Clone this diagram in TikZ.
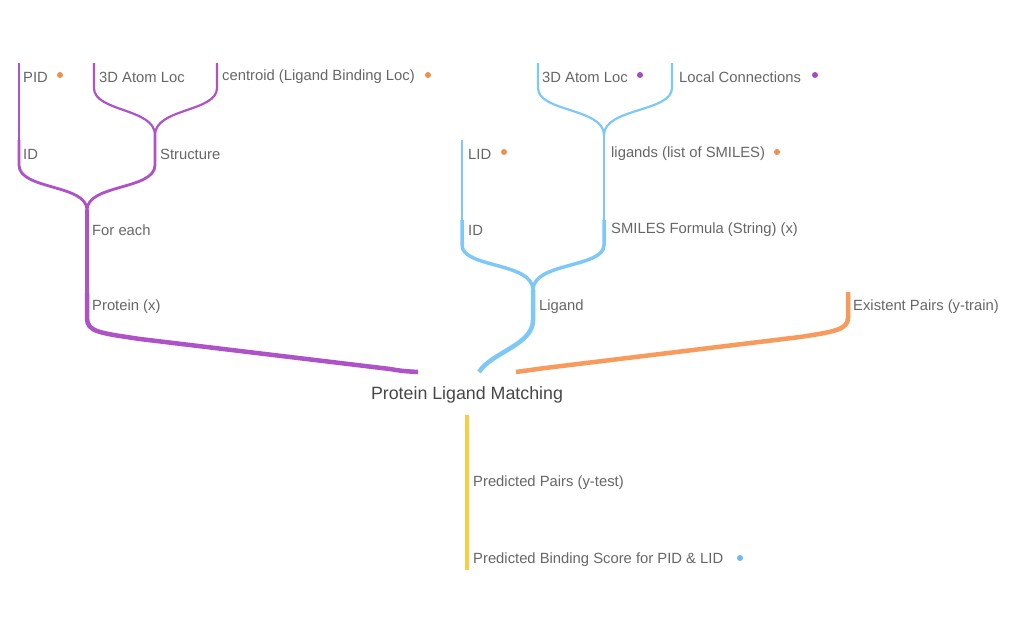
\documentclass[tikz,border=0pt]{standalone}
\usepackage{fontspec}
\setmainfont{Liberation Sans}
\definecolor{purp}{HTML}{AE52C8}
\definecolor{sky}{HTML}{7DC8F7}
\definecolor{peach}{HTML}{F79A5C}
\definecolor{sun}{HTML}{F9CC45}
\definecolor{txtgray}{HTML}{666666}
\definecolor{dotorange}{HTML}{EE8F4E}
\definecolor{dotpurple}{HTML}{A44BC0}
\definecolor{dotblue}{HTML}{6CB9EF}
\tikzset{lab/.style = {anchor=west, inner sep=0pt, text=txtgray, font=\fontsize{14.8}{17}\selectfont}}
\tikzset{dot/.style = {shape=circle, inner sep=0pt, minimum size=6pt}}
\tikzset{edge/.style = {-, line join=round}}

\begin{document}
\begin{tikzpicture}[x=1pt,y=-1pt]
\useasboundingbox (0,0) rectangle (1024,633);
% protein side
\coordinate (pidtop) at (19,63);
\coordinate (pidend) at (19,140);
\coordinate (idend) at (19,165);
\coordinate (atomtop) at (94,63);
\coordinate (atomend) at (94,88);
\coordinate (centtop) at (217,63);
\coordinate (centend) at (217,88);
\coordinate (structop) at (155,135);
\coordinate (strucend) at (155,165);
\coordinate (eachtop) at (87,210);
\coordinate (eachend) at (87,293);
\coordinate (protend) at (87,318);
% ligand side
\coordinate (latomtop) at (538,63);
\coordinate (latomend) at (538,88);
\coordinate (conntop) at (672,63);
\coordinate (connend) at (672,88);
\coordinate (ligstop) at (604,135);
\coordinate (ligsend) at (604,220);
\coordinate (smilesend) at (604,245);
\coordinate (lidtop) at (462,140);
\coordinate (lidend) at (462,220);
\coordinate (ligidend) at (462,245);
\coordinate (ligandtop) at (533,290);
\coordinate (ligandend) at (533,320);
% pairs
\coordinate (pairstop) at (848,292);
\coordinate (pairsend) at (848,318);
% centre and output
\coordinate (inleft) at (418,372);
\coordinate (inmid) at (479,372);
\coordinate (inright) at (516,372);
\coordinate (outtop) at (467,415);
\coordinate (outmid) at (467,492);
\coordinate (outend) at (467,570);

% labels
\node[lab] (pid) at (23,77) {PID};
\node[lab] (atomloc) at (99,77) {3D Atom Loc};
\node[lab] (centroid) at (222,77) {centroid (Ligand Binding Loc)};
\node[lab] (protid) at (23,154) {ID};
\node[lab] (structure) at (160,154) {Structure};
\node[lab] (foreach) at (92,230) {For each};
\node[lab] (protein) at (92,307) {Protein (x)};
\node[lab] (latomloc) at (542,77) {3D Atom Loc};
\node[lab] (lconn) at (679,77) {Local Connections};
\node[lab] (lid) at (468,154) {LID};
\node[lab] (ligands) at (611,154) {ligands (list of SMILES)};
\node[lab] (ligid) at (468,230) {ID};
\node[lab] (smiles) at (611,230) {SMILES Formula (String) (x)};
\node[lab] (ligand) at (539,307) {Ligand};
\node[lab] (pairs) at (853,307) {Existent Pairs (y-train)};
\node[text=black!72, inner sep=0pt, font=\fontsize{17.8}{21}\selectfont] (matching) at (467,395) {Protein Ligand Matching};
\node[lab] (predpairs) at (473,483) {Predicted Pairs (y-test)};
\node[lab] (predscore) at (473,560) {Predicted Binding Score for PID \& LID};

% dots
\node[dot, fill=dotorange] (piddot) at (60,75) {};
\node[dot, fill=dotorange] (centdot) at (428,75) {};
\node[dot, fill=dotpurple] (latomdot) at (640,75) {};
\node[dot, fill=dotpurple] (conndot) at (815,75) {};
\node[dot, fill=dotorange] (liddot) at (504,152) {};
\node[dot, fill=dotorange] (ligsdot) at (777,152) {};
\node[dot, fill=dotblue] (scoredot) at (740,558) {};

%edges
\draw[edge, purp, line width=2.2pt] (pidtop) -- (pidend);
\draw[edge, purp, line width=2.2pt] (atomtop) -- (atomend) .. controls (94,112) and (155,108) .. (structop);
\draw[edge, purp, line width=2.2pt] (centtop) -- (centend) .. controls (217,112) and (155,108) .. (structop);
\draw[edge, purp, line width=2.8pt] (pidend) -- (idend) .. controls (19,190) and (87,184) .. (eachtop);
\draw[edge, purp, line width=2.8pt] (structop) -- (strucend) .. controls (155,190) and (87,184) .. (eachtop);
\draw[edge, purp, line width=3.5pt] (eachtop) -- (eachend);
\draw[edge, purp, line width=4.5pt] (eachend) -- (protend) .. controls (87,332) and (100,333) .. (140,339) -- (390,369) .. controls (402,371) .. (inleft);

\draw[edge, sky, line width=2.2pt] (latomtop) -- (latomend) .. controls (538,112) and (604,108) .. (ligstop);
\draw[edge, sky, line width=2.2pt] (conntop) -- (connend) .. controls (672,112) and (604,108) .. (ligstop);
\draw[edge, sky, line width=2.4pt] (lidtop) -- (lidend);
\draw[edge, sky, line width=2.8pt] (ligstop) -- (ligsend);
\draw[edge, sky, line width=3.5pt] (lidend) -- (ligidend) .. controls (462,268) and (533,262) .. (ligandtop);
\draw[edge, sky, line width=3.5pt] (ligsend) -- (smilesend) .. controls (604,268) and (533,262) .. (ligandtop);
\draw[edge, sky, line width=4.5pt] (ligandtop) -- (ligandend) .. controls (533,345) and (492,352) .. (inmid);

\draw[edge, peach, line width=4.5pt] (pairstop) -- (pairsend) .. controls (848,330) and (832,332) .. (800,337) -- (545,368) .. controls (530,370) .. (inright);

\draw[edge, sun, line width=4.5pt] (outtop) -- (outmid);
\draw[edge, sun, line width=3.8pt] (outmid) -- (outend);
\end{tikzpicture}
\end{document}
